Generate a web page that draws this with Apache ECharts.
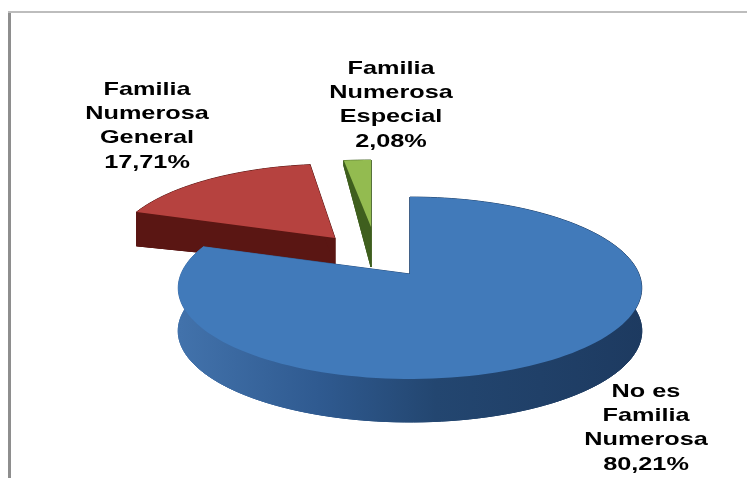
<!DOCTYPE html>
<html><head><meta charset="utf-8">
<style>html,body{margin:0;padding:0;background:#fff}#c{width:747px;height:478px;filter:blur(0.4px)}</style>
<script src="https://cdn.jsdelivr.net/npm/echarts@6/dist/echarts.min.js"></script>
</head><body><div id="c"></div>
<script>
const categories = ['No es\nFamilia\nNumerosa', 'Familia\nNumerosa\nGeneral', 'Familia\nNumerosa\nEspecial'];
const values = [80.21, 17.71, 2.08];
const percentText = ['80,21%', '17,71%', '2,08%'];
const topColors = ['#417aba', '#b6423f', '#93bb50'];
const sideColors = ['#1d3a60', '#5a1613', '#3f5f1e'];

// Perspective pie geometry per slice: apex position, scale, extrusion at apex / rim, label centre
const slices = [
  {ax: 410, ay: 274, sx: 1, sy: 1, dA: 43, dR: 43, lx: 646, ly: 428, z: 3},
  {ax: 335, ay: 238, sx: 0.96, sy: 0.96, dA: 28, dR: 34, lx: 147, ly: 126, z: 1},
  {ax: 371, ay: 227, sx: 1.05, sy: 0.87, dA: 40, dR: 5, lx: 391, ly: 105, z: 2}
];
const K = 0.154, RY = 88.8, RX = 229;
const total = values.reduce((a, b) => a + b, 0);

function rimPoint(s, deg, depth) {
  const a = deg * Math.PI / 180, u = Math.sin(a), v = Math.cos(a), w = 1 + K * v;
  return [s.ax + RX * s.sx * u / w, s.ay - RY * s.sy * v / w + depth];
}

function sideFill(i) {
  if (i !== 0) return sideColors[i];
  return new echarts.graphic.LinearGradient(180, 0, 645, 0, [
    {offset: 0, color: '#4272ab'},
    {offset: 0.3, color: '#2f5a90'},
    {offset: 0.55, color: '#234670'},
    {offset: 1, color: sideColors[0]}
  ], true);
}

function renderItem(params, api) {
  const i = params.dataIndex, s = slices[i];
  let startV = 0;
  for (let j = 0; j < i; j++) startV += values[j];
  const a0 = startV / total * 360, a1 = (startV + api.value(0)) / total * 360;
  const top = [], bottom = [];
  const n = Math.max(4, Math.ceil((a1 - a0) / 2));
  for (let k = 0; k <= n; k++) {
    const d = a0 + (a1 - a0) * k / n;
    top.push(rimPoint(s, d, 0));
    bottom.push(rimPoint(s, d, s.dR));
  }
  const apexTop = [s.ax, s.ay], apexBot = [s.ax, s.ay + s.dA];
  const fill = sideFill(i);
  const side = {fill: fill, stroke: fill, lineWidth: 1};
  const poly = (points, style) => ({type: 'polygon', z2: s.z, shape: {points}, style});
  const lastT = top[top.length - 1], lastB = bottom[bottom.length - 1];
  return {
    type: 'group',
    children: [
      poly([apexBot].concat(bottom), side),
      poly(top.concat(bottom.slice().reverse()), side),
      poly([apexTop, top[0], bottom[0], apexBot], side),
      poly([apexTop, lastT, lastB, apexBot], side),
      poly([apexTop].concat(top), {fill: topColors[i]}),
      {
        type: 'text', x: s.lx, y: s.ly, scaleX: 1.33, z2: 10,
        style: {
          text: categories[i] + '\n' + percentText[i],
          font: 'bold 19px "Liberation Sans", Arial, sans-serif',
          fill: '#000', align: 'center', verticalAlign: 'middle', lineHeight: 24.4
        }
      }
    ]
  };
}

const chart = echarts.init(document.getElementById('c'), null, {renderer: 'canvas'});
chart.setOption({
  animation: false,
  backgroundColor: '#fff',
  graphic: [
    {type: 'rect', shape: {x: 8, y: 11, width: 3, height: 467}, style: {fill: '#8e8e8e'}},
    {type: 'rect', shape: {x: 8, y: 11, width: 739, height: 2}, style: {fill: '#bdbdbd'}}
  ],
  series: [{
    type: 'custom',
    coordinateSystem: 'none',
    renderItem,
    data: values.map(v => [v])
  }]
});
</script></body></html>
